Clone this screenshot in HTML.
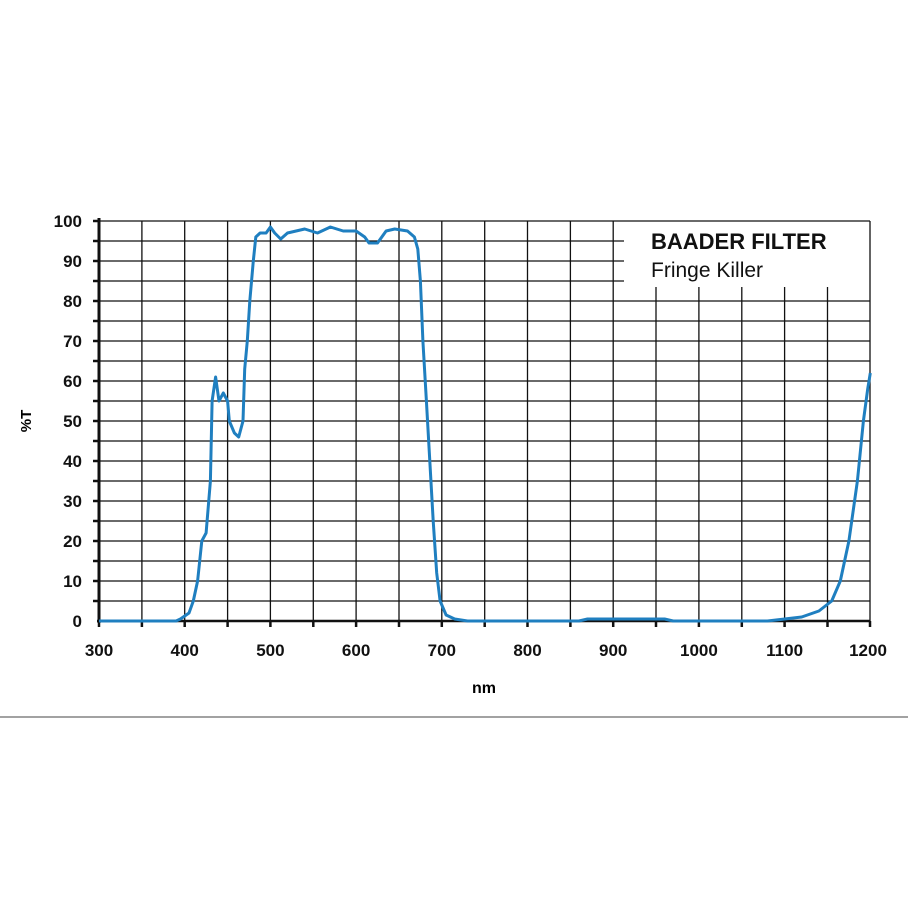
<!DOCTYPE html><html><head><style>body{margin:0;background:#fff}svg{display:block}</style></head><body>
<svg width="908" height="908" xmlns="http://www.w3.org/2000/svg" font-family="Liberation Sans, Arial, sans-serif">
<g stroke="#111" stroke-width="1.3">
<line x1="99" y1="601" x2="870" y2="601"/><line x1="99" y1="581" x2="870" y2="581"/><line x1="99" y1="561" x2="870" y2="561"/><line x1="99" y1="541" x2="870" y2="541"/><line x1="99" y1="521" x2="870" y2="521"/><line x1="99" y1="501" x2="870" y2="501"/><line x1="99" y1="481" x2="870" y2="481"/><line x1="99" y1="461" x2="870" y2="461"/><line x1="99" y1="441" x2="870" y2="441"/><line x1="99" y1="421" x2="870" y2="421"/><line x1="99" y1="401" x2="870" y2="401"/><line x1="99" y1="381" x2="870" y2="381"/><line x1="99" y1="361" x2="870" y2="361"/><line x1="99" y1="341" x2="870" y2="341"/><line x1="99" y1="321" x2="870" y2="321"/><line x1="99" y1="301" x2="870" y2="301"/><line x1="99" y1="281" x2="624" y2="281"/><line x1="99" y1="261" x2="624" y2="261"/><line x1="99" y1="241" x2="624" y2="241"/><line x1="99" y1="221" x2="870" y2="221"/>
<line x1="141.9" y1="221" x2="141.9" y2="621"/><line x1="184.7" y1="221" x2="184.7" y2="621"/><line x1="227.6" y1="221" x2="227.6" y2="621"/><line x1="270.4" y1="221" x2="270.4" y2="621"/><line x1="313.3" y1="221" x2="313.3" y2="621"/><line x1="356.1" y1="221" x2="356.1" y2="621"/><line x1="399" y1="221" x2="399" y2="621"/><line x1="441.8" y1="221" x2="441.8" y2="621"/><line x1="484.7" y1="221" x2="484.7" y2="621"/><line x1="527.5" y1="221" x2="527.5" y2="621"/><line x1="570.4" y1="221" x2="570.4" y2="621"/><line x1="613.2" y1="221" x2="613.2" y2="621"/><line x1="656" y1="287" x2="656" y2="621"/><line x1="698.9" y1="287" x2="698.9" y2="621"/><line x1="741.8" y1="287" x2="741.8" y2="621"/><line x1="784.6" y1="287" x2="784.6" y2="621"/><line x1="827.5" y1="287" x2="827.5" y2="621"/><line x1="870" y1="221" x2="870" y2="621"/>
</g>
<line x1="99" y1="218" x2="99" y2="623" stroke="#111" stroke-width="3"/>
<line x1="97" y1="621" x2="870" y2="621" stroke="#111" stroke-width="2.5"/>
<g stroke="#111" stroke-width="2.5">
<line x1="93" y1="221" x2="99" y2="221"/><line x1="93" y1="241" x2="99" y2="241"/><line x1="93" y1="261" x2="99" y2="261"/><line x1="93" y1="281" x2="99" y2="281"/><line x1="93" y1="301" x2="99" y2="301"/><line x1="93" y1="321" x2="99" y2="321"/><line x1="93" y1="341" x2="99" y2="341"/><line x1="93" y1="361" x2="99" y2="361"/><line x1="93" y1="381" x2="99" y2="381"/><line x1="93" y1="401" x2="99" y2="401"/><line x1="93" y1="421" x2="99" y2="421"/><line x1="93" y1="441" x2="99" y2="441"/><line x1="93" y1="461" x2="99" y2="461"/><line x1="93" y1="481" x2="99" y2="481"/><line x1="93" y1="501" x2="99" y2="501"/><line x1="93" y1="521" x2="99" y2="521"/><line x1="93" y1="541" x2="99" y2="541"/><line x1="93" y1="561" x2="99" y2="561"/><line x1="93" y1="581" x2="99" y2="581"/><line x1="93" y1="601" x2="99" y2="601"/>
<line x1="99" y1="621" x2="99" y2="627"/><line x1="141.9" y1="621" x2="141.9" y2="627"/><line x1="184.7" y1="621" x2="184.7" y2="627"/><line x1="227.6" y1="621" x2="227.6" y2="627"/><line x1="270.4" y1="621" x2="270.4" y2="627"/><line x1="313.3" y1="621" x2="313.3" y2="627"/><line x1="356.1" y1="621" x2="356.1" y2="627"/><line x1="399" y1="621" x2="399" y2="627"/><line x1="441.8" y1="621" x2="441.8" y2="627"/><line x1="484.7" y1="621" x2="484.7" y2="627"/><line x1="527.5" y1="621" x2="527.5" y2="627"/><line x1="570.4" y1="621" x2="570.4" y2="627"/><line x1="613.2" y1="621" x2="613.2" y2="627"/><line x1="656" y1="621" x2="656" y2="627"/><line x1="698.9" y1="621" x2="698.9" y2="627"/><line x1="741.8" y1="621" x2="741.8" y2="627"/><line x1="784.6" y1="621" x2="784.6" y2="627"/><line x1="827.5" y1="621" x2="827.5" y2="627"/><line x1="870" y1="621" x2="870" y2="627"/>
</g>
<polyline id="curve" fill="none" stroke="#1f7fc0" stroke-width="3" stroke-linejoin="round"/>
<text x="651" y="249" font-size="22" font-weight="bold" fill="#111">BAADER FILTER</text>
<text x="651" y="277" font-size="21" fill="#111">Fringe Killer</text>
<g font-size="17" font-weight="bold" text-anchor="end" fill="#111">
<text x="82" y="627">0</text><text x="82" y="587">10</text><text x="82" y="547">20</text><text x="82" y="507">30</text><text x="82" y="467">40</text><text x="82" y="427">50</text><text x="82" y="387">60</text><text x="82" y="347">70</text><text x="82" y="307">80</text><text x="82" y="267">90</text><text x="82" y="227">100</text>
</g>
<g font-size="17" font-weight="bold" text-anchor="middle" fill="#111">
<text x="99" y="656">300</text><text x="184.7" y="656">400</text><text x="270.4" y="656">500</text><text x="356.1" y="656">600</text><text x="441.8" y="656">700</text><text x="527.5" y="656">800</text><text x="613.2" y="656">900</text><text x="698.9" y="656">1000</text><text x="784.6" y="656">1100</text><text x="868" y="656">1200</text>
</g>
<text x="484" y="693" font-size="16" font-weight="bold" text-anchor="middle">nm</text>
<text transform="translate(31,421) rotate(-90)" font-size="15" font-weight="bold" text-anchor="middle">%T</text>
<line x1="0" y1="717" x2="908" y2="717" stroke="#444" stroke-width="1"/>
<script>
var X=n=>99+(n-300)*0.857, Y=v=>621-v*4;
var d=[[300,0],[390,0],[395,0.5],[405,2],[410,5],[415,10],[420,20],[425,22],[430,35],[432,55],[436,61],[440,55],[445,57],[450,55],[452,50],[458,47],[463,46],[468,50],[470,63],[473,70],[476,80],[480,90],[483,96],[488,97],[495,97],[500,98.5],[505,97],[512,95.5],[520,97],[540,98],[555,97],[570,98.5],[585,97.5],[600,97.5],[610,96],[615,94.5],[625,94.5],[635,97.5],[645,98],[660,97.5],[668,96],[672,93],[675,85],[678,70],[682,55],[686,40],[690,25],[694,12],[698,5],[705,1.5],[715,0.5],[730,0],[860,0],[870,0.5],[960,0.5],[970,0],[1080,0],[1100,0.5],[1120,1],[1140,2.5],[1155,5],[1165,10],[1175,20],[1185,35],[1192,50],[1197,58],[1200,62]];
document.getElementById('curve').setAttribute('points',d.map(p=>X(p[0]).toFixed(1)+','+Y(p[1]).toFixed(1)).join(' '));
</script>
</svg></body></html>
